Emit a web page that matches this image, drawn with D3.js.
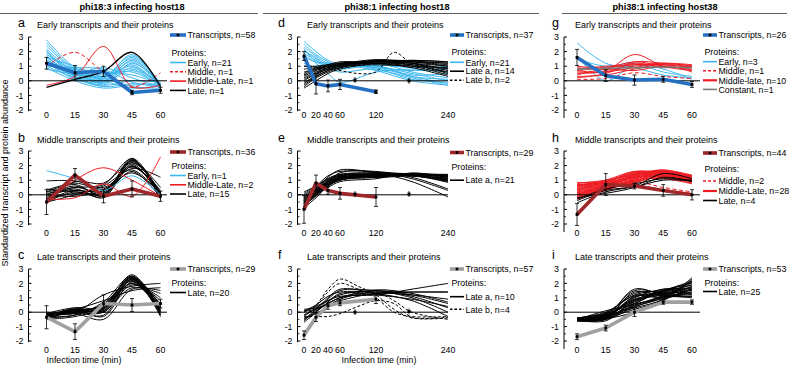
<!DOCTYPE html>
<html><head><meta charset="utf-8">
<script src="https://cdn.jsdelivr.net/npm/d3@7"></script>
<style>body{margin:0;background:#fff}svg text{font-family:"Liberation Sans",Arial,Helvetica,sans-serif}</style>
</head><body><svg id="c" width="793" height="368"></svg>
<script>
// ---------------- DATA ----------------
const colTitles = ["phi18:3 infecting host18","phi38:1 infecting host18","phi38:1 infecting host38"];
const yTicks = [-2,-1,0,1,2,3];
const ticksShort = [0,15,30,45,60];
const ticksLong = [0,20,40,60,120,240];
const timesShort = [0,15,30,45,60];
const timesLong = [0,20,40,60,120,180,240];
const timesLongB = [0,20,40,60,90,120,150,180,240];
const trTimesLong = [0,20,40,60,120];

// panel a
const aTr = [1.2,0.55,0.65,-0.8,-0.65];
const aTrErr = [0.4,0.5,0.35,0.15,0.2];
const aEarly = [
 [2.8,0.9,0.2,1.8,-0.3],[2.6,0.8,0.3,1.7,-0.2],[2.4,0.7,0.0,1.6,-0.3],[2.2,0.6,0.2,1.5,-0.4],
 [2.0,0.5,-0.1,1.4,-0.3],[1.9,0.4,0.1,1.3,-0.4],[1.8,0.7,-0.2,1.2,-0.2],[1.7,0.3,0.0,1.1,-0.5],
 [1.6,0.5,0.3,1.0,-0.3],[1.5,0.2,-0.3,0.9,-0.4],[1.4,0.6,0.4,0.8,-0.2],[1.3,0.1,-0.1,0.7,-0.4],
 [1.2,0.4,0.5,0.6,-0.3],[1.1,0.8,0.6,0.4,-0.2],[1.0,0.2,-0.4,-0.2,-0.3],[1.0,0.9,0.8,-0.1,-0.4],
 [0.9,0.0,-0.5,-0.3,-0.2],[1.6,1.0,0.2,-0.4,-0.5],[2.1,0.3,-0.3,0.0,-0.1],[1.3,0.6,0.0,-0.5,-0.3],
 [0.8,0.5,0.9,0.2,-0.4]];
const aMiddle = [[1.0,1.95,0.6,-0.45,0.55]];
const aMidLate = [[-0.3,0.3,2.35,-0.4,-0.3]];
const aLate = [[-0.45,0.1,0.65,1.95,-0.4]];

// panel b
const bTr = [-0.5,1.35,-0.1,0.4,-0.1];
const bTrErr = [0.85,0.45,0.45,0.55,0.35];
const bEarly = [[1.65,1.1,0.3,1.3,0.0]];
const bMidLate = [[-0.5,1.0,1.85,1.0,-0.1],[-0.3,-0.2,0.75,-0.1,2.6]];
const bLate = [
 [-0.5,0.2,-0.1,2.5,0.0],[-0.4,0.3,0.0,2.4,-0.1],[-0.3,0.1,0.1,2.35,0.1],[-0.2,0.4,-0.2,2.3,0.0],
 [-0.1,0.5,0.2,2.2,0.2],[0.0,0.6,0.0,2.1,-0.2],[0.1,0.3,0.3,2.0,0.1],[0.2,0.7,-0.1,1.95,0.0],
 [0.3,0.8,0.4,1.9,0.3],[0.95,0.95,0.5,1.8,1.2],[-0.5,0.0,0.6,1.7,0.0],[0.4,0.2,0.1,1.6,-0.2],
 [-0.3,0.9,0.8,2.2,0.5],[0.0,-0.1,0.3,1.5,0.1],[0.2,0.5,0.7,2.45,-0.3]];

// panel c
const cTr = [-0.35,-1.35,0.6,0.5,0.6];
const cTrErr = [0.8,0.55,0.6,0.45,0.3];
const cLate = [
 [-0.3,0.0,0.3,2.6,0.0],[-0.4,0.1,0.2,2.5,-0.2],[-0.2,-0.1,0.4,2.45,0.2],[-0.5,0.2,0.1,2.4,0.1],
 [-0.3,0.0,0.5,2.35,-0.3],[-0.1,0.3,0.0,2.3,0.3],[-0.4,-0.2,0.6,2.25,0.0],[-0.2,0.1,0.2,2.2,0.5],
 [-0.3,0.2,-0.3,2.1,0.6],[-0.5,-0.3,0.3,2.0,0.2],[0.0,0.0,1.2,1.8,2.0],[-0.2,0.2,0.8,1.5,1.7],
 [-0.3,-0.1,-0.5,1.6,1.5],[-0.4,0.1,0.4,2.15,-0.1],[-0.1,0.0,0.0,1.9,1.0],[-0.3,-0.2,0.7,2.5,0.4],
 [-0.2,0.2,0.1,1.7,1.3],[-0.4,0.0,-0.2,2.3,0.1],[-0.1,0.1,0.5,2.4,-0.2],[-0.3,0.3,0.3,2.0,0.8]];

// panel d
const dTr = [1.7,-0.2,-0.35,-0.25,-0.75];
const dTrErr = [0.3,0.7,0.4,0.35,0.12];
const dMarks = [[85,0.05],[175,0.0]];
const dEarly = [
 [2.7,2.0,1.4,1.1,0.9,0.3,-0.2],[2.5,1.8,1.3,1.0,1.0,0.5,0.0],[2.3,1.7,1.2,1.2,0.8,0.2,-0.3],
 [2.1,1.5,1.1,0.9,1.2,0.6,0.2],[1.9,1.4,1.0,1.1,0.7,0.0,-0.3],[1.8,1.2,0.5,-0.1,0.6,0.8,0.6],
 [1.6,1.3,1.2,1.0,1.1,0.9,1.0],[1.2,0.9,0.8,0.9,1.0,0.4,0.5],[1.0,1.0,1.1,1.2,0.9,0.7,0.8],
 [2.0,1.6,0.9,0.6,0.8,0.1,-0.1],[2.2,1.3,1.0,0.8,1.05,0.3,0.1]];
const dLateA = [
 [-0.5,0.0,0.5,0.8,1.2,1.3,1.2],[-0.4,0.2,0.6,0.9,1.3,1.4,1.3],[-0.3,0.3,0.7,1.0,1.35,1.3,1.0],
 [-0.2,0.4,0.8,1.0,1.4,1.2,0.8],[0.0,0.5,0.9,1.1,1.3,1.1,0.6],[0.2,0.6,0.9,1.2,1.2,1.0,0.4],
 [0.3,0.7,1.0,1.1,1.4,1.3,1.1],[0.4,0.8,1.0,1.2,1.3,1.4,1.3],[0.5,0.9,1.1,1.3,1.2,0.9,0.3],
 [0.6,0.8,1.0,1.0,1.1,1.0,0.9],[1.0,1.0,1.1,1.2,1.3,1.2,1.0],[-0.1,0.3,0.7,0.9,1.4,1.35,1.2],
 [0.1,0.5,0.8,1.1,1.45,1.2,0.7],[0.8,0.9,1.0,1.1,1.2,1.1,0.5]];
const dLateB = [
 [1.0,0.9,0.8,0.7,0.5,0.6,1.95,1.2,0.85],
 [0.4,0.7,0.9,1.0,1.1,1.2,1.3,1.0,0.6]];

// panel e
const eTr = [-1.0,0.8,0.3,0.1,-0.15];
const eTrErr = [0.95,0.55,0.25,0.4,0.65];
const eMarks = [[85,0.05],[175,0.05]];
const eLateA = [
 [-0.9,-0.2,0.6,1.0,1.3,1.4,1.3],[-0.8,0.0,0.7,1.1,1.35,1.45,1.2],[-0.7,0.1,0.8,1.2,1.4,1.35,1.1],
 [-0.6,0.2,0.8,1.15,1.3,1.4,1.4],[-0.5,0.3,0.9,1.25,1.45,1.3,1.0],[-0.4,0.2,0.7,1.05,1.3,1.4,1.25],
 [-0.3,0.4,1.0,1.35,1.5,1.4,0.9],[-0.2,0.3,0.9,1.5,1.6,1.2,0.4],[0.0,0.5,1.2,1.7,1.5,0.9,-0.15],
 [0.2,0.6,1.1,1.4,1.2,1.3,1.3],[-0.9,0.0,0.5,0.9,1.1,1.5,1.2],[-0.6,0.1,0.6,1.0,1.2,1.45,1.1],
 [-0.5,0.2,0.9,1.3,1.4,1.3,1.15],[-0.3,0.3,0.8,1.2,1.35,1.35,1.05],[-0.7,-0.1,0.6,1.1,1.25,1.4,1.35],
 [-0.4,0.4,1.0,1.3,1.4,1.3,0.95],[-0.2,0.5,1.1,1.4,1.5,1.35,0.85],[-0.8,0.1,0.7,1.05,1.2,1.4,1.25],
 [0.1,0.6,1.3,1.6,1.55,1.1,0.3],[-0.5,0.0,0.7,1.15,1.35,1.45,1.35],[-0.1,0.4,0.9,1.2,1.3,1.3,1.0]];

// panel f
const fTr = [-1.6,-0.35,0.45,0.65,0.9];
const fTrErr = [0.3,0.3,0.25,0.2,0.3];
const fMarks = [[85,0.0],[175,0.05]];
const fLateA = [
 [-0.7,0.0,0.9,1.5,1.5,1.1,0.3],[-0.5,0.2,1.0,1.6,1.3,0.8,-0.3],[-0.3,0.3,0.8,1.2,1.5,1.2,0.6],
 [-0.6,0.1,0.6,1.0,1.3,1.4,1.4],[0.0,0.4,0.8,1.1,1.2,1.6,2.0],[0.2,0.3,0.5,0.8,1.3,1.2,0.9],
 [-0.4,-0.1,0.4,0.9,1.4,1.0,0.0],[-0.2,0.2,0.6,1.0,1.55,1.3,0.7],[-0.5,0.0,0.7,1.3,1.2,0.9,0.4],
 [0.1,0.5,1.1,1.4,1.4,1.4,1.4]];
const fLateB = [
 [0.0,0.5,1.6,2.3,1.8,1.2,0.2,-0.4,-0.4],
 [-0.2,0.4,1.4,2.0,1.6,1.0,0.0,-0.3,-0.3],
 [-0.3,-0.3,-0.3,-0.1,0.4,0.8,0.6,-0.35,-0.35],
 [0.1,0.2,0.6,1.0,1.3,1.4,0.8,0.0,-0.5]];

// panel g
const gTr = [1.6,0.35,0.05,0.1,-0.25];
const gTrErr = [0.55,0.4,0.35,0.2,0.2];
const gEarly = [[2.6,1.2,0.9,0.4,0.2],[1.7,0.0,1.1,0.8,0.1],[1.5,1.0,1.2,0.6,0.3]];
const gMiddle = [[0.1,0.15,0.55,0.3,0.15]];
const gMidLate = [
 [0.9,0.8,1.0,1.2,1.0],[0.7,0.9,1.1,1.1,0.9],[0.6,0.7,1.8,1.0,0.7],[0.5,0.6,0.9,1.2,1.1],
 [1.0,0.9,1.3,1.0,0.8],[0.3,0.4,0.8,1.1,0.6],[0.2,0.5,1.2,0.9,1.0],[0.8,1.0,1.1,1.15,0.95],
 [0.4,0.8,0.7,1.0,0.75],[0.7,0.6,1.3,1.2,1.05]];
const gConstant = [[0.8,0.85,0.9,0.95,0.9]];

// panel h
const hTr = [-1.35,0.7,0.6,0.3,0.0];
const hTrErr = [0.75,0.75,0.2,0.4,0.35];
const hMiddle = [[0.1,0.6,0.9,0.5,0.2],[0.0,0.5,0.7,0.35,0.1]];
const hMidLate = [
 [0.85,0.9,1.5,1.6,1.3],[0.8,1.0,1.4,1.7,1.2],[0.75,0.85,1.6,1.5,1.1],[0.7,0.8,1.3,1.65,1.35],
 [0.65,0.95,1.45,1.4,1.0],[0.6,0.7,1.2,1.55,1.25],[0.55,0.9,1.55,1.3,0.9],[0.5,0.75,1.1,1.6,1.15],
 [0.45,0.6,1.35,1.45,1.05],[0.4,0.85,1.25,1.7,1.3],[0.35,0.65,1.0,1.35,0.95],[0.3,0.55,1.4,1.5,1.2],
 [0.25,0.8,1.15,1.25,0.85],[0.2,0.5,0.9,1.55,1.1],[0.15,0.7,1.3,1.4,1.0],[0.1,0.45,1.05,1.6,1.25],
 [0.05,0.6,1.2,1.2,0.8],[0.0,0.4,0.95,1.45,1.15],[-0.05,0.55,1.5,1.35,0.9],[-0.1,0.35,0.85,1.3,1.05],
 [-0.15,0.5,1.25,1.65,1.2],[-0.2,0.3,1.0,1.1,0.75],[-0.25,0.45,0.8,1.4,1.0],[-0.3,0.35,1.1,1.5,1.1],
 [0.6,1.0,1.6,1.4,1.0],[0.7,0.6,0.9,1.2,0.9],[0.3,0.9,1.35,1.55,1.3],[0.0,0.65,1.2,1.35,1.05]];
const hLate = [[-0.55,0.2,0.6,1.45,1.1],[-0.4,0.3,0.55,1.0,0.95],[-0.3,0.4,0.75,1.1,1.0],[-0.2,0.1,0.5,1.2,0.9]];

// panel i
const iTr = [-1.7,-1.1,0.0,0.7,0.7];
const iTrErr = [0.2,0.2,0.3,0.15,0.15];
const iLate = [
 [-0.5,-0.3,1.6,1.2,1.0],[-0.45,-0.2,1.5,1.3,1.2],[-0.55,-0.4,1.4,1.1,1.1],[-0.5,-0.1,1.3,1.4,1.3],
 [-0.4,0.0,1.2,1.5,1.5],[-0.6,-0.5,1.1,1.0,1.4],[-0.5,-0.3,1.0,1.6,1.6],[-0.45,-0.2,0.9,1.3,1.7],
 [-0.55,-0.6,0.8,1.2,1.8],[-0.5,-0.4,0.7,1.4,1.9],[-0.4,-0.1,0.6,1.5,2.0],[-0.6,-0.5,0.5,1.1,2.1],
 [-0.5,-0.3,0.4,1.0,2.2],[-0.45,-0.2,0.3,0.9,2.4],[-0.55,-0.4,0.2,0.8,2.3],[-0.5,0.1,0.6,1.6,1.2],
 [-0.4,-0.3,0.9,1.25,1.5],[-0.6,-0.45,0.0,0.85,1.6],[-0.5,-0.25,1.05,1.35,1.9],[-0.45,-0.35,0.45,1.15,1.75],
 [-0.55,-0.15,0.75,1.45,2.05],[-0.5,-0.5,0.35,1.05,1.4],[-0.4,-0.05,1.15,1.2,1.1],[-0.6,-0.4,0.55,0.95,1.65],
 [-0.5,-0.2,0.85,1.5,2.15]];

// ---------------- STYLE / LAYOUT ----------------
const C = {trEarly:"#2470c2", trMid:"#a0282b", trLate:"#a0a0a0", early:"#3cb7ef", red:"#ee1d24", late:"#000", constant:"#7a7a7a"};
const cols = [
 {domain:[0,60], range:[46.5,160.5], axisX:28.5, zeroEnd:167, axisBot:-2.08, ticks:ticksShort, legX:170, legW:16, titleC:132, lineX:[0,258], letterX:18, titleX:37, xlabC:84},
 {domain:[0,240], range:[304,448], axisX:297.5, zeroEnd:448, axisBot:-2.08, ticks:ticksLong, legX:450, legW:14, titleC:397, lineX:[263,539], letterX:278, titleX:307, xlabC:379},
 {domain:[0,60], range:[577,692], axisX:564, zeroEnd:700, axisBot:-2.55, ticks:ticksShort, legX:703, legW:14, titleC:665, lineX:[562,787], letterX:552, titleX:575}
];
const rows = [
 {top:37, bot:110, tickY:117.5, letterY:27, titleY:28},
 {top:151, bot:224, tickY:236, letterY:142, titleY:143},
 {top:269, bot:341, tickY:352.5, letterY:259, titleY:260}
];
const L = (label,color,dash,width) => ({label,color,dash,width});
const panels = [
 {l:"a",c:0,r:0,title:"Early transcripts and their proteins",trT:timesShort,tr:aTr,err:aTrErr,trC:C.trEarly,trN:"Transcripts, n=58",
  groups:[{t:timesShort,d:aEarly,c:C.early},{t:timesShort,d:aMiddle,c:C.red,dash:"4,2.5"},{t:timesShort,d:aMidLate,c:C.red},{t:timesShort,d:aLate,c:C.late,w:1.3}],
  leg:[L("Early, n=21",C.early),L("Middle, n=1",C.red,"3,2"),L("Middle-Late, n=1",C.red),L("Late, n=1",C.late)], legY:[35,53,62.5,71.8,81.1,90.4]},
 {l:"b",c:0,r:1,title:"Middle transcripts and their proteins",trT:timesShort,tr:bTr,err:bTrErr,trC:C.trMid,trN:"Transcripts, n=36",
  groups:[{t:timesShort,d:bLate,c:C.late},{t:timesShort,d:bEarly,c:C.early},{t:timesShort,d:bMidLate,c:C.red}],
  leg:[L("Early, n=1",C.early),L("Middle-Late, n=2",C.red),L("Late, n=15",C.late)], legY:[152,166,175.5,184.8,194]},
 {l:"c",c:0,r:2,title:"Late transcripts and their proteins",trT:timesShort,tr:cTr,err:cTrErr,trC:C.trLate,trN:"Transcripts, n=29",
  groups:[{t:timesShort,d:cLate,c:C.late}],
  leg:[L("Late, n=20",C.late)], legY:[269,282.5,292.5]},
 {l:"d",c:1,r:0,title:"Early transcripts and their proteins",trT:trTimesLong,tr:dTr,err:dTrErr,trC:C.trEarly,trN:"Transcripts, n=37",marks:dMarks,
  groups:[{t:timesLong,d:dEarly,c:C.early},{t:timesLong,d:dLateA,c:C.late},{t:timesLongB,d:dLateB,c:C.late,dash:"3,2"}],
  leg:[L("Early, n=21",C.early),L("Late a, n=14",C.late),L("Late b, n=2",C.late,"2.5,2")], legY:[35,52,62.3,71.2,80.2]},
 {l:"e",c:1,r:1,title:"Middle transcripts and their proteins",trT:trTimesLong,tr:eTr,err:eTrErr,trC:C.trMid,trN:"Transcripts, n=29",marks:eMarks,
  groups:[{t:timesLong,d:eLateA,c:C.late}],
  leg:[L("Late a, n=21",C.late)], legY:[152.5,167,180.2]},
 {l:"f",c:1,r:2,title:"Late transcripts and their proteins",trT:trTimesLong,tr:fTr,err:fTrErr,trC:C.trLate,trN:"Transcripts, n=57",marks:fMarks,
  groups:[{t:timesLong,d:fLateA,c:C.late},{t:timesLongB,d:fLateB,c:C.late,dash:"3,2"}],
  leg:[L("Late a, n=10",C.late),L("Late b, n=4",C.late,"2.5,2")], legY:[269,282.7,296.7,309.3]},
 {l:"g",c:2,r:0,title:"Early transcripts and their proteins",trT:timesShort,tr:gTr,err:gTrErr,trC:C.trEarly,trN:"Transcripts, n=26",
  groups:[{t:timesShort,d:gEarly,c:C.early},{t:timesShort,d:gMidLate,c:C.red},{t:timesShort,d:gMiddle,c:C.red,dash:"4,2.5"},{t:timesShort,d:gConstant,c:C.constant,w:1.6}],
  leg:[L("Early, n=3",C.early),L("Middle, n=1",C.red,"3,2"),L("Middle-late, n=10",C.red,null,2.2),L("Constant, n=1",C.constant,null,1.6)], legY:[35,52,61.7,70.8,80.3,89.4]},
 {l:"h",c:2,r:1,title:"Middle transcripts and their proteins",trT:timesShort,tr:hTr,err:hTrErr,trC:C.trMid,trN:"Transcripts, n=44",
  groups:[{t:timesShort,d:hMidLate,c:C.red},{t:timesShort,d:hMiddle,c:C.red,dash:"4,2.5"},{t:timesShort,d:hLate,c:C.late}],
  leg:[L("Middle, n=2",C.red,"3,2"),L("Middle-Late, n=28",C.red,null,2.2),L("Late, n=4",C.late,null,1.6)], legY:[153,169,181,191,200.5]},
 {l:"i",c:2,r:2,title:"Late transcripts and their proteins",trT:timesShort,tr:iTr,err:iTrErr,trC:C.trLate,trN:"Transcripts, n=53",
  groups:[{t:timesShort,d:iLate,c:C.late}],
  leg:[L("Late, n=25",C.late)], legY:[269,282.5,291.5]}
];

// ---------------- DRAW ----------------
const svg = d3.select("#c");
const FS = 8.8;

cols.forEach((c,i)=>{
  svg.append("text").attr("x",c.titleC).attr("y",10).attr("text-anchor","middle")
    .attr("font-size",9.2).attr("font-weight","bold").text(colTitles[i]);
  svg.append("line").attr("x1",c.lineX[0]).attr("x2",c.lineX[1]).attr("y1",13.5).attr("y2",13.5)
    .attr("stroke","#333").attr("stroke-width",0.8);
});
svg.append("text").attr("transform","translate(8,173) rotate(-90)").attr("text-anchor","middle")
  .attr("font-size",9).text("Standardized transcript and protein abundance");
cols.filter(c=>c.xlabC).forEach(c=>{
  svg.append("text").attr("x",c.xlabC).attr("y",362.5).attr("text-anchor","middle")
    .attr("font-size",FS).text("Infection time (min)");
});

panels.forEach(p=>{
  const col = cols[p.c], row = rows[p.r];
  const x = d3.scaleLinear().domain(col.domain).range(col.range);
  const y = d3.scaleLinear().domain([-2,3]).range([row.bot,row.top]);
  const g = svg.append("g");
  const clipId = "clip"+p.l;
  svg.append("clipPath").attr("id",clipId).append("rect")
    .attr("x",col.axisX).attr("y",row.top-12).attr("width",col.zeroEnd-col.axisX+2).attr("height",row.bot-row.top+24);

  // letter + title
  g.append("text").attr("x",col.letterX).attr("y",row.letterY).attr("font-size",12.5).text(p.l);
  g.append("text").attr("x",col.titleX).attr("y",row.titleY).attr("font-size",9).text(p.title);

  // protein curves
  const pg = g.append("g").attr("clip-path",`url(#${clipId})`);
  p.groups.forEach(gr=>{
    const line = d3.line().x((d,i)=>x(gr.t[i])).y(d=>y(d)).curve(d3.curveCatmullRom.alpha(0.5));
    gr.d.forEach(cv=>{
      pg.append("path").attr("d",line(cv)).attr("fill","none").attr("stroke",gr.c)
        .attr("stroke-width",gr.w||1).attr("stroke-dasharray",gr.dash||null);
    });
  });

  // zero line
  g.append("line").attr("x1",col.axisX).attr("x2",col.zeroEnd).attr("y1",y(0)).attr("y2",y(0))
    .attr("stroke","#000").attr("stroke-width",1);
  // y axis
  g.append("line").attr("x1",col.axisX).attr("x2",col.axisX).attr("y1",y(3)).attr("y2",y(col.axisBot))
    .attr("stroke","#000").attr("stroke-width",1);
  const ya = g.append("g");
  yTicks.forEach(v=>{
    ya.append("line").attr("x1",col.axisX).attr("x2",col.axisX+3).attr("y1",y(v)).attr("y2",y(v)).attr("stroke","#000");
    ya.append("text").attr("x",col.axisX-5).attr("y",y(v)+3.2).attr("text-anchor","end").attr("font-size",FS).text(String(v));
  });
  d3.range(-1.5,3,1).forEach(v=>{
    ya.append("line").attr("x1",col.axisX).attr("x2",col.axisX+2).attr("y1",y(v)).attr("y2",y(v)).attr("stroke","#000").attr("stroke-width",0.8);
  });
  // x tick labels
  col.ticks.forEach(t=>{
    g.append("text").attr("x",x(t)).attr("y",row.tickY).attr("text-anchor","middle").attr("font-size",FS).text(String(t));
  });

  // transcripts
  const tl = d3.line().x((d,i)=>x(p.trT[i])).y(d=>y(d));
  g.append("path").attr("d",tl(p.tr)).attr("fill","none").attr("stroke",p.trC).attr("stroke-width",3.6)
    .attr("stroke-linejoin","round");
  p.tr.forEach((v,i)=>{
    const xx=x(p.trT[i]), e=p.err[i];
    g.append("line").attr("x1",xx).attr("x2",xx).attr("y1",y(v-e)).attr("y2",y(v+e)).attr("stroke","#000").attr("stroke-width",0.8);
    [v-e,v+e].forEach(ev=>g.append("line").attr("x1",xx-2).attr("x2",xx+2).attr("y1",y(ev)).attr("y2",y(ev)).attr("stroke","#000").attr("stroke-width",0.8));
    g.append("rect").attr("x",xx-1.4).attr("y",y(v)-1.4).attr("width",2.8).attr("height",2.8).attr("fill","#000");
  });
  (p.marks||[]).forEach(m=>{
    const xx=x(m[0]);
    g.append("line").attr("x1",xx).attr("x2",xx).attr("y1",y(m[1])-3).attr("y2",y(m[1])+3).attr("stroke","#000").attr("stroke-width",0.8);
    g.append("rect").attr("x",xx-1.5).attr("y",y(m[1])-1.5).attr("width",3).attr("height",3).attr("fill","#000");
  });

  // legend
  const lx = col.legX, lw = col.legW;
  const ly = p.legY;
  g.append("line").attr("x1",lx).attr("x2",lx+lw).attr("y1",ly[0]).attr("y2",ly[0]).attr("stroke",p.trC).attr("stroke-width",3.6);
  g.append("rect").attr("x",lx+lw/2-1.3).attr("y",ly[0]-1.3).attr("width",2.6).attr("height",2.6).attr("fill","#000");
  g.append("text").attr("x",lx+lw+1.5).attr("y",ly[0]+3.2).attr("font-size",FS).text(p.trN);
  g.append("text").attr("x",lx+1.5).attr("y",ly[1]+3.2).attr("font-size",FS).text("Proteins:");
  p.leg.forEach((it,k)=>{
    const yy = ly[k+2];
    g.append("line").attr("x1",lx).attr("x2",lx+lw).attr("y1",yy).attr("y2",yy).attr("stroke",it.color)
      .attr("stroke-width",it.width||1.6).attr("stroke-dasharray",it.dash||null);
    g.append("text").attr("x",lx+lw+1.5).attr("y",yy+3.2).attr("font-size",FS).text(it.label);
  });
});
</script></body></html>
